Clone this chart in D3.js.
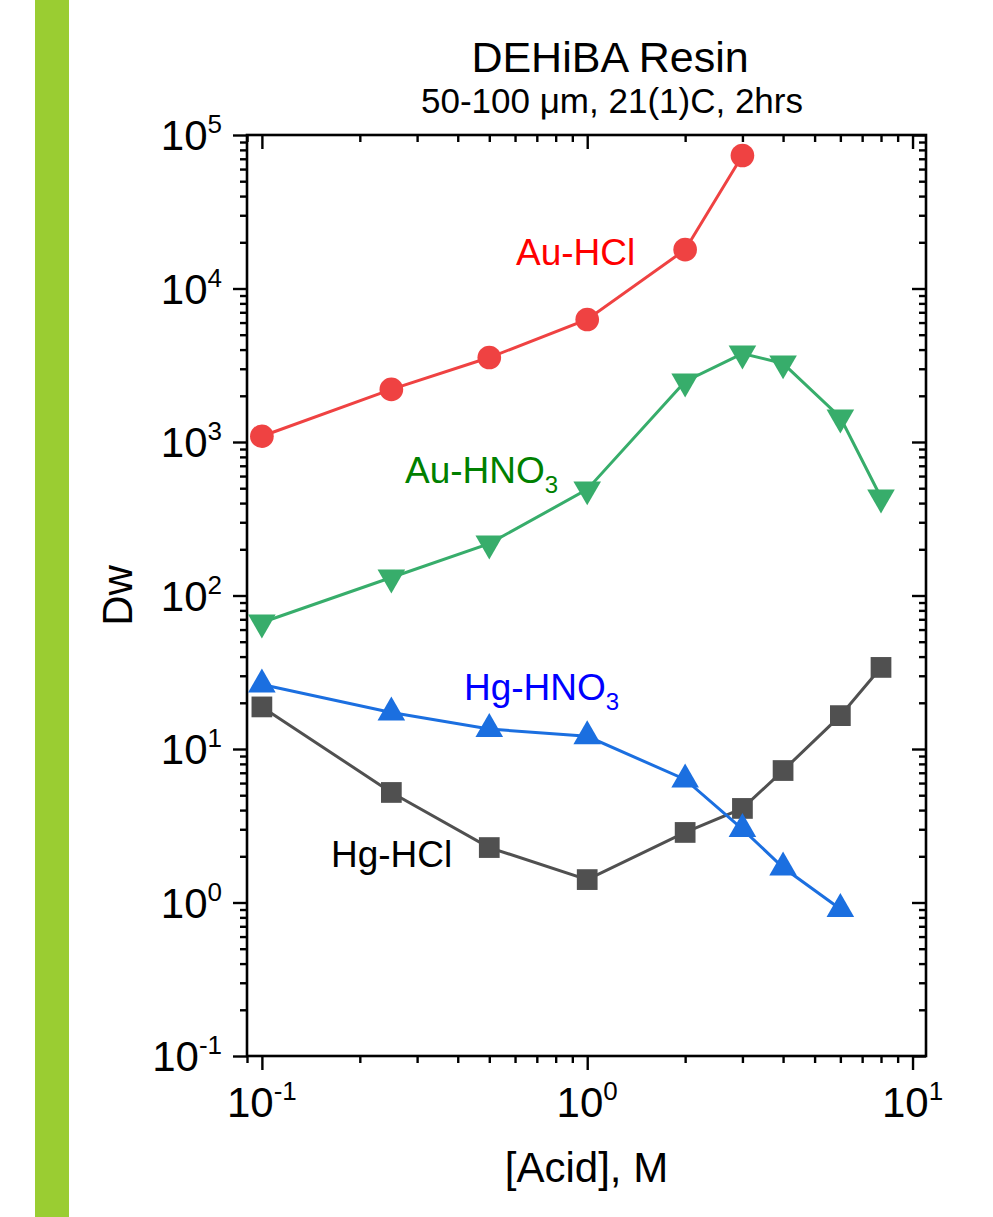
<!DOCTYPE html>
<html>
<head>
<meta charset="utf-8">
<script src="https://cdn.jsdelivr.net/npm/d3@7"></script>
<style>
  body { margin: 0; background: #fff; }
  text { font-family: "Liberation Sans", Arial, sans-serif; }
</style>
</head>
<body>
<div id="graph"></div>
<script>
// data
const acid = [0.1, 0.25, 0.5, 1, 2, 3, 4, 6, 8];
const auHCl = [1090, 2200, 3550, 6280, 17900, 73500];
const auHNO3 = [66.7, 131, 218, 491, 2480, 3770, 3250, 1445, 435];
const hgHNO3 = [26.3, 17.3, 13.5, 12.1, 6.33, 3.01, 1.69, 0.907];
const hgHCl = [18.8, 5.21, 2.28, 1.41, 2.86, 4.10, 7.24, 16.5, 34.0];

const xMajor = [0.1, 1, 10];
const yMajor = [0.1, 1, 10, 100, 1000, 10000, 100000];

const W = 993, H = 1217;
const margin = {top: 135, right: 67, bottom: 161, left: 247};

const svg = d3.select("#graph")
  .append("svg")
    .attr("width", W)
    .attr("height", H);

// green strip on the left
svg.append("rect")
  .attr("x", 35).attr("y", 0)
  .attr("width", 34).attr("height", H)
  .attr("fill", "#9acd32");

const x = d3.scaleLog().domain([0.09, 11]).range([margin.left, W - margin.right]);
const y = d3.scaleLog().domain([0.1, 100000]).range([H - margin.bottom, margin.top]);

// minor ticks
const xMinor = [];
[0.01, 0.1, 1].forEach(d => { for (let k = 2; k <= 9; k++) xMinor.push(d * k); });
const xMinorIn = xMinor.filter(v => v >= 0.09 && v <= 11);
const yMinor = [];
yMajor.slice(0, -1).forEach(d => { for (let k = 2; k <= 9; k++) yMinor.push(d * k); });

const x0 = x.range()[0], x1 = x.range()[1];
const y0 = y.range()[0], y1 = y.range()[1];

function drawAxis(axisFn, scale, vals, size, tx, ty) {
  const g = svg.append("g")
    .attr("transform", `translate(${tx},${ty})`)
    .call(axisFn(scale).tickValues(vals).tickSize(size).tickSizeOuter(0).tickFormat(""));
  g.select(".domain").remove();
  g.selectAll("line").attr("stroke", "#000").attr("stroke-width", 2.4);
}

// bottom and left: outward
drawAxis(d3.axisBottom, x, xMajor, 14, 0, y0);
drawAxis(d3.axisBottom, x, xMinorIn, 7, 0, y0);
drawAxis(d3.axisLeft, y, yMajor, 14, x0, 0);
drawAxis(d3.axisLeft, y, yMinor, 7, x0, 0);

// top and right: inward
drawAxis(d3.axisTop, x, xMajor, -14, 0, y1);
drawAxis(d3.axisTop, x, xMinorIn, -7, 0, y1);
drawAxis(d3.axisRight, y, yMajor, -14, x1, 0);
drawAxis(d3.axisRight, y, yMinor, -7, x1, 0);

// frame
svg.append("rect")
  .attr("x", x0).attr("y", y1)
  .attr("width", x1 - x0).attr("height", y0 - y1)
  .attr("fill", "none").attr("stroke", "#000").attr("stroke-width", 2.6);

// tick labels
function expLabel(sel, v) {
  const e = Math.round(Math.log10(v));
  sel.append("tspan").text("10");
  sel.append("tspan").attr("font-size", 26).attr("dy", -17).text(e);
}
svg.append("g").selectAll("text").data(xMajor).join("text")
  .attr("x", d => x(d)).attr("y", 1117)
  .attr("text-anchor", "middle")
  .attr("font-size", 42)
  .each(function(d) { expLabel(d3.select(this), d); });
svg.append("g").selectAll("text").data(yMajor).join("text")
  .attr("x", 222).attr("y", d => y(d) + 15)
  .attr("text-anchor", "end")
  .attr("font-size", 42)
  .each(function(d) { expLabel(d3.select(this), d); });

// axis titles
svg.append("text")
  .attr("x", (x0 + x1) / 2).attr("y", 1182)
  .attr("text-anchor", "middle").attr("font-size", 42)
  .text("[Acid], M");
svg.append("text")
  .attr("transform", `translate(132,${(y0 + y1) / 2}) rotate(-90)`)
  .attr("text-anchor", "middle").attr("font-size", 42)
  .text("Dw");

// chart title
svg.append("text")
  .attr("x", 610).attr("y", 72)
  .attr("text-anchor", "middle").attr("font-size", 43)
  .text("DEHiBA Resin");
svg.append("text")
  .attr("x", 612).attr("y", 113)
  .attr("text-anchor", "middle").attr("font-size", 35)
  .text("50-100 \u03bcm, 21(1)C, 2hrs");

// series
const series = [
  {name: "Hg-HCl", values: hgHCl, color: "#505050", symbol: d3.symbolSquare, size: 430, rot: 0},
  {name: "Hg-HNO3", values: hgHNO3, color: "#1b6fe0", symbol: d3.symbolTriangle, size: 330, rot: 0},
  {name: "Au-HNO3", values: auHNO3, color: "#37ad6b", symbol: d3.symbolTriangle, size: 330, rot: 180},
  {name: "Au-HCl", values: auHCl, color: "#ef4242", symbol: d3.symbolCircle, size: 440, rot: 0}
];

const line = d3.line().x(d => x(d[0])).y(d => y(d[1]));

series.forEach(s => {
  const pts = s.values.map((v, i) => [acid[i], v]);
  svg.append("path")
    .datum(pts)
    .attr("fill", "none")
    .attr("stroke", s.color)
    .attr("stroke-width", 3)
    .attr("d", line);
  svg.append("g").selectAll("path").data(pts).join("path")
    .attr("transform", d => `translate(${x(d[0])},${y(d[1])}) rotate(${s.rot})`)
    .attr("d", d3.symbol().type(s.symbol).size(s.size))
    .attr("fill", s.color);
});

// in-plot labels (data coordinates)
const labels = [
  {text: "Au-HCl", sub: "", at: [0.604, 14230], color: "#ff0000"},
  {text: "Au-HNO", sub: "3", at: [0.2754, 541], color: "#008000"},
  {text: "Hg-HNO", sub: "3", at: [0.418, 20.9], color: "#0000ff"},
  {text: "Hg-HCl", sub: "", at: [0.163, 1.70], color: "#000000"}
];
labels.forEach(l => {
  const t = svg.append("text")
    .attr("x", x(l.at[0])).attr("y", y(l.at[1]))
    .attr("font-size", 37)
    .attr("fill", l.color);
  t.append("tspan").text(l.text);
  if (l.sub) t.append("tspan").attr("font-size", 24).attr("dy", 10).text(l.sub);
});
</script>
</body>
</html>
